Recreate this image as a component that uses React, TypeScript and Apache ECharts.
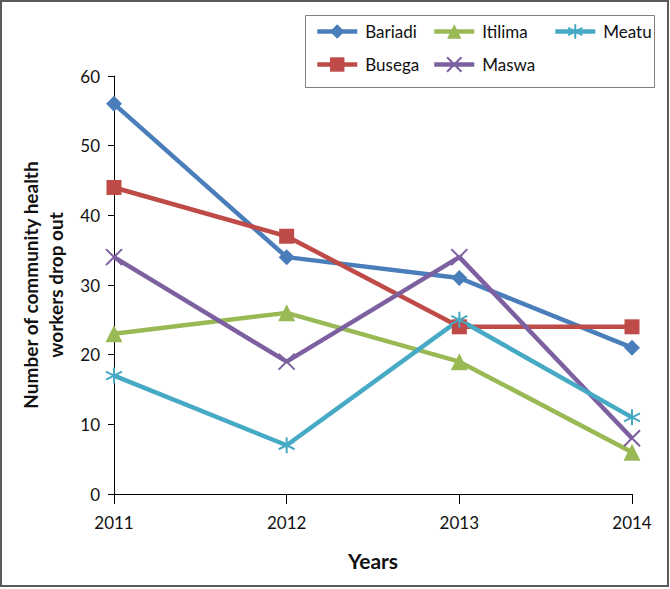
import React, { useEffect, useRef } from "react";
import * as echarts from "echarts";

const years = ["2011", "2012", "2013", "2014"];
const bariadi = [56, 34, 31, 21];
const busega = [44, 37, 24, 24];
const itilima = [23, 26, 19, 6];
const maswa = [34, 19, 34, 8];
const meatu = [17, 7, 25, 11];
const seriesNames = ["Bariadi", "Busega", "Itilima", "Maswa", "Meatu"];
const yTicks = { min: 0, max: 60, interval: 10 };

const FONT = "Lato, 'Liberation Sans', sans-serif";
const X_PATH = "path://M0,0L10,10M10,0L0,10";
const AST_PATH = "path://M5,0L5,10M0.67,2.5L9.33,7.5M0.67,7.5L9.33,2.5";

export default function App() {
  const ref = useRef<HTMLDivElement>(null);
  useEffect(() => {
    if (!ref.current) return;
    const chart = echarts.init(ref.current, null, { renderer: "svg" });
    const colors = ["#4A7EBB", "#BE4B48", "#98B954", "#7D60A0", "#46AAC5"];
    const datas = [bariadi, busega, itilima, maswa, meatu];
    const symbols = ["diamond", "rect", "triangle", X_PATH, AST_PATH];
    const sizes = [16, 15, 17, 16, 16];
    const series = seriesNames.map((name, i) => {
      const stroked = i >= 3;
      return {
        name,
        type: "line",
        data: datas[i],
        symbol: symbols[i],
        symbolSize: sizes[i],
        showAllSymbol: true,
        lineStyle: { color: colors[i], width: 4.5 },
        itemStyle: stroked
          ? { color: "rgba(0,0,0,0)", borderColor: colors[i], borderWidth: 2 }
          : { color: colors[i], borderWidth: 0 },
        emphasis: { disabled: true },
      };
    });
    const legendPos: Record<string, [number, number]> = {
      Bariadi: [315, 23],
      Itilima: [432, 23],
      Meatu: [553, 23],
      Busega: [315, 56],
      Maswa: [432, 56],
    };
    const legends = Object.keys(legendPos).map((n) => ({
      data: [n],
      left: legendPos[n][0],
      top: legendPos[n][1],
      padding: 0,
      itemWidth: 40,
      itemHeight: 18,
      itemGap: 0,
      lineStyle: { width: 4.5 },
      textStyle: { fontFamily: FONT, fontSize: 17, color: "#111", padding: [0, 0, 0, 3] },
      selectedMode: false,
    }));
    chart.setOption({
      animation: false,
      backgroundColor: "#ffffff",
      color: colors,
      grid: { left: 114, right: 38, top: 76, bottom: 95, containLabel: false },
      legend: legends,
      graphic: [
        {
          type: "rect",
          shape: { x: 1, y: 1, width: 667, height: 585 },
          style: { fill: "none", stroke: "#5a5a5a", lineWidth: 2 },
          silent: true,
        },
        {
          type: "rect",
          shape: { x: 305.5, y: 15.5, width: 349, height: 72 },
          style: { fill: "none", stroke: "#808080", lineWidth: 1 },
          silent: true,
          z: -1,
        },
      ],
      xAxis: {
        type: "category",
        data: years,
        boundaryGap: false,
        name: "Years",
        nameLocation: "middle",
        nameGap: 56,
        nameTextStyle: { fontFamily: FONT, fontSize: 21, fontWeight: "bold", color: "#111" },
        axisLine: { lineStyle: { color: "#000", width: 1 } },
        axisTick: { alignWithLabel: true, length: 10, lineStyle: { color: "#000" } },
        axisLabel: { fontFamily: FONT, fontSize: 17, color: "#111", margin: 20 },
        splitLine: { show: false },
      },
      yAxis: {
        type: "value",
        min: yTicks.min,
        max: yTicks.max,
        interval: yTicks.interval,
        name: "Number of community health\nworkers drop out",
        nameLocation: "middle",
        nameGap: 46,
        nameTextStyle: { fontFamily: FONT, fontSize: 19, fontWeight: "bold", color: "#111", lineHeight: 25 },
        axisLine: { show: true, lineStyle: { color: "#000", width: 1 } },
        axisTick: { show: true, length: 6, lineStyle: { color: "#000" } },
        axisLabel: { fontFamily: FONT, fontSize: 17, color: "#111", margin: 14 },
        splitLine: { show: false },
      },
      series,
    });
    return () => chart.dispose();
  }, []);
  return (
    <div
      ref={ref}
      style={{ position: "fixed", left: 0, top: 0, width: 670, height: 589 }}
    />
  );
}
